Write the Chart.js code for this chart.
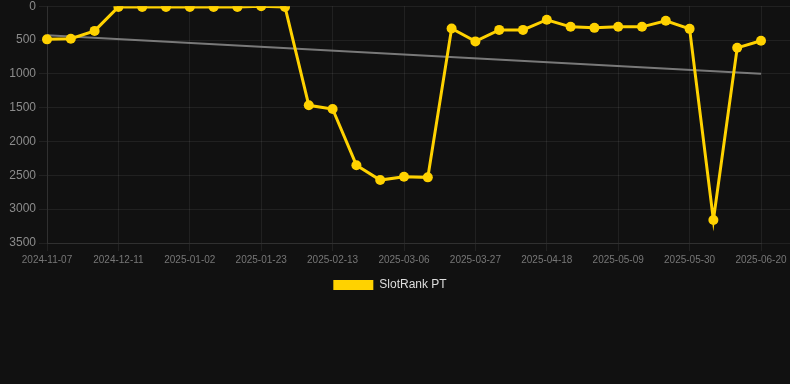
<!DOCTYPE html>
<html>
<head>
<meta charset="utf-8">
<script src="https://cdn.jsdelivr.net/npm/chart.js"></script>
<style>
    html, body { margin: 0; padding: 0; background: #111111; overflow: hidden; }
    #wrap { position: relative; width: 790px; height: 305px; margin-top: -4px; }
</style>
</head>
<body>
<div id="wrap"><canvas id="rankChart"></canvas></div>
<script>
// dates (one per point), every 3rd is shown on the axis
const dates = [
    '2024-11-07', '2024-11-18', '2024-11-29', '2024-12-11', '2024-12-18', '2024-12-25',
    '2025-01-02', '2025-01-09', '2025-01-16', '2025-01-23', '2025-01-30', '2025-02-06',
    '2025-02-13', '2025-02-20', '2025-02-27', '2025-03-06', '2025-03-13', '2025-03-20',
    '2025-03-27', '2025-04-03', '2025-04-10', '2025-04-18', '2025-04-25', '2025-05-02',
    '2025-05-09', '2025-05-16', '2025-05-23', '2025-05-30', '2025-06-06', '2025-06-13',
    '2025-06-20'
];

// rank values
const rankValues = [
    490, 480, 365, 10, 10, 10,
    10, 10, 10, 0, 10, 1465,
    1520, 2350, 2570, 2520, 2530, 330,
    520, 350, 350, 200, 305, 320,
    305, 305, 215, 335, 3160, 615,
    510
];

// trend line, only its two ends
const trendStart = 430;
const trendEnd = 1000;

const yTicks = { min: 0, max: 3500, step: 500 };

const trendValues = dates.map((_, i) => {
    if (i === 0) return trendStart;
    if (i === dates.length - 1) return trendEnd;
    return null;
});

const gridColor = 'rgba(255,255,255,0.07)';
const yellow = '#FFD200';
const fontFamily = 'Arial, "Liberation Sans", sans-serif';

// nudge the legend a little to the left, like the original
const legendShift = {
    id: 'legendShift',
    afterLayout(chart) {
        if (chart.legend) {
            chart.legend.left -= 5;
            chart.legend.right -= 5;
        }
    }
};

const ctx = document.getElementById('rankChart').getContext('2d');
new Chart(ctx, {
    type: 'line',
    data: {
        labels: dates,
        datasets: [{
            label: 'SlotRank PT',
            data: rankValues,
            borderColor: yellow,
            backgroundColor: yellow,
            borderWidth: 3,
            pointRadius: 5,
            pointHoverRadius: 5,
            pointBackgroundColor: yellow,
            pointBorderWidth: 0,
            tension: 0,
            order: 1
        }, {
            label: 'trend',
            data: trendValues,
            spanGaps: true,
            borderColor: 'rgba(140,140,140,0.85)',
            borderWidth: 2,
            pointRadius: 0,
            tension: 0,
            order: 2
        }]
    },
    options: {
        responsive: true,
        maintainAspectRatio: false,
        animation: false,
        layout: { padding: 0 },
        scales: {
            x: {
                grid: { color: gridColor, tickLength: 8 },
                border: { color: gridColor },
                ticks: {
                    color: '#777',
                    font: { family: fontFamily, size: 10 },
                    autoSkip: false,
                    maxRotation: 0,
                    padding: 3,
                    callback: function (val, idx) {
                        return idx % 3 === 0 ? this.getLabelForValue(val) : null;
                    }
                }
            },
            y: {
                reverse: true,
                min: yTicks.min,
                max: yTicks.max,
                afterFit: scale => { scale.width = 47; },
                grid: { color: gridColor, tickLength: 8 },
                border: { color: gridColor },
                ticks: {
                    stepSize: yTicks.step,
                    color: '#8c8c8c',
                    padding: 3,
                    font: { family: fontFamily, size: 12 },
                    callback: v => String(v)
                }
            },
            y1: {
                position: 'right',
                reverse: true,
                min: yTicks.min,
                max: yTicks.max,
                grid: { color: gridColor, drawOnChartArea: false, tickLength: 29 },
                border: { display: false },
                ticks: { display: false, stepSize: yTicks.step }
            }
        },
        plugins: {
            legend: {
                position: 'bottom',
                labels: {
                    color: '#ddd',
                    boxWidth: 40,
                    boxHeight: 10,
                    font: { family: fontFamily, size: 12 },
                    filter: item => item.text !== 'trend',
                    generateLabels: chart => {
                        const items = Chart.defaults.plugins.legend.labels.generateLabels(chart);
                        items.forEach(it => { it.lineWidth = 0; });
                        return items;
                    }
                }
            },
            tooltip: { enabled: false },
            title: { display: false }
        }
    },
    plugins: [legendShift]
});
</script>
</body>
</html>
